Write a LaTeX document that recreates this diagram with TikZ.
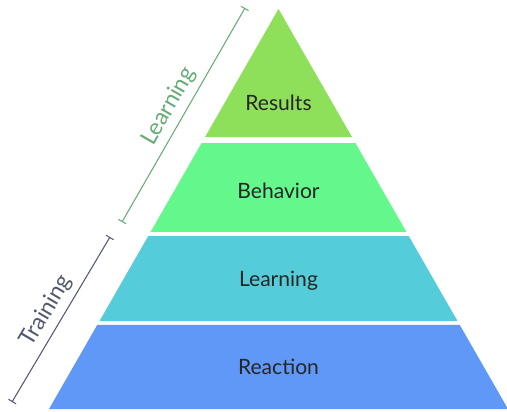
\documentclass[tikz,border=0pt]{standalone}
\usepackage{fontspec}
\setmainfont{Lato}
\usetikzlibrary{calc,arrows.meta}
\definecolor{results}{RGB}{142,224,90}
\definecolor{behavior}{RGB}{100,248,140}
\definecolor{learning}{RGB}{84,204,218}
\definecolor{reaction}{RGB}{95,152,246}
\definecolor{learnline}{RGB}{100,172,118}
\definecolor{trainline}{RGB}{82,88,112}

\begin{document}
\begin{tikzpicture}[x=0.02cm,y=-0.02cm,
    level/.style={font=\fontsize{12}{14}\selectfont, text=black!85, anchor=base},
    side/.style={font=\fontsize{13}{15}\selectfont, sloped, above, midway},
    span/.style={line width=0.6pt, {Bar[width=5pt]}-{Bar[width=5pt]}}]
        \useasboundingbox (0,0) rectangle (507,412);
        \coordinate (apex) at (278.5,9);
        \coordinate (baseL) at (49,409);
        \coordinate (baseR) at (508,409);
        \foreach \Top/\Bot/\Col in {0/0.32/results, 0.335/0.5575/behavior, 0.5675/0.78/learning, 0.79/1/reaction}
        \fill[\Col] ($(apex)!\Top!(baseL)$) -- ($(apex)!\Bot!(baseL)$) -- ($(apex)!\Bot!(baseR)$) -- ($(apex)!\Top!(baseR)$) -- cycle;
        \foreach \Name/\Y/\Label in {res/111/Results, beh/198/Behavior, lrn/286/Learning, rea/374/Reaction}
        \node[level] (\Name) at (278.5,\Y) {\Label};
        \coordinate (learnBot) at (122,222);
        \coordinate (learnTop) at (245,8);
        \coordinate (trainBot) at (12,402);
        \coordinate (trainTop) at (110,237);
        \draw[span, learnline] (learnBot) -- node[side, text=learnline] (learnTxt) {Learning} (learnTop);
        \draw[span, trainline] (trainBot) -- node[side, text=trainline] (trainTxt) {Training} (trainTop);
\end{tikzpicture}
\end{document}
